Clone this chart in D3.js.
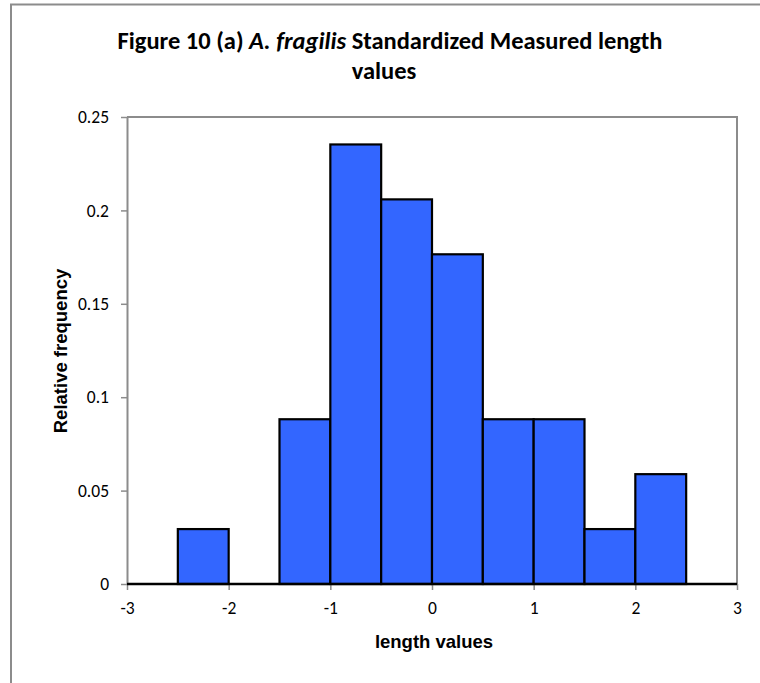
<!DOCTYPE html>
<html>
<head>
<meta charset="utf-8">
<script src="https://cdn.jsdelivr.net/npm/d3@7"></script>
<style>
  html, body { margin: 0; padding: 0; background: #fff; }
  svg { display: block; }
</style>
</head>
<body>
<svg id="chart" width="760" height="683"></svg>
<script>
// Data
const binStarts = [-3, -2.5, -2, -1.5, -1, -0.5, 0, 0.5, 1, 1.5, 2, 2.5];
const binWidth = 0.5;
const relFreq = [0, 0.0294, 0, 0.0882, 0.2353, 0.2059, 0.1765, 0.0882, 0.0882, 0.0294, 0.0588, 0];
const xTicks = [-3, -2, -1, 0, 1, 2, 3];
const xTickLabels = ["-3", "-2", "-1", "0", "1", "2", "3"];
const yTicks = [0, 0.05, 0.1, 0.15, 0.2, 0.25];
const yTickLabels = ["0", "0.05", "0.1", "0.15", "0.2", "0.25"];
const titleLine1 = ["Figure 10 (a) ", "A. fragilis", " Standardized Measured length"];
const titleLine2 = "values";
const xTitle = "length values";
const yTitle = "Relative frequency";

const svg = d3.select("#chart");
const m = { left: 127, right: 737, top: 117, bottom: 584 };
const tickFont = "Carlito, Lato, 'Open Sans', sans-serif";
const tickSize = 17.5;

// outer border
svg.append("rect").attr("x", 11).attr("y", 4.5).attr("width", 760).attr("height", 700)
  .attr("fill", "#fff").attr("stroke", "#8c8c8c").attr("stroke-width", 2);

const x = d3.scaleLinear().domain([-3, 3]).range([m.left, m.right]);
const y = d3.scaleLinear().domain([0, 0.25]).range([m.bottom, m.top]);

// plot area border (top, right)
svg.append("path")
  .attr("d", `M${m.left},${m.top}H${m.right}V${m.bottom}`)
  .attr("fill", "none").attr("stroke", "#8c8c8c").attr("stroke-width", 2);

// bars
const bars = binStarts.map((s, i) => ({ x0: s, x1: s + binWidth, v: relFreq[i] }));
svg.append("g").selectAll("rect").data(bars.filter(d => d.v > 0)).join("rect")
  .attr("x", d => x(d.x0))
  .attr("y", d => y(d.v))
  .attr("width", d => x(d.x1) - x(d.x0))
  .attr("height", d => y(0) - y(d.v))
  .attr("fill", "#3366ff")
  .attr("stroke", "#000")
  .attr("stroke-width", 2.2);

// Y axis
const yAxis = d3.axisLeft(y).tickValues(yTicks).tickFormat((d, i) => yTickLabels[i]).tickSize(6).tickSizeOuter(0);
const gy = svg.append("g").attr("transform", `translate(${m.left},0)`).call(yAxis)
  .attr("font-size", tickSize).attr("font-family", tickFont);
gy.select(".domain").attr("stroke", "#8c8c8c").attr("stroke-width", 2);
gy.selectAll(".tick line").attr("stroke", "#8c8c8c").attr("stroke-width", 1.5);
gy.selectAll(".tick text").attr("x", -18).attr("fill", "#000")
  .style("font-size", tickSize + "px").style("font-family", tickFont);

// X axis
const xAxis = d3.axisBottom(x).tickValues(xTicks).tickFormat((d, i) => xTickLabels[i]).tickSize(6).tickSizeOuter(0);
const gx = svg.append("g").attr("transform", `translate(0,${m.bottom})`).call(xAxis)
  .attr("font-size", tickSize).attr("font-family", tickFont);
gx.select(".domain").remove();
gx.selectAll(".tick line").attr("stroke", "#8c8c8c").attr("stroke-width", 1.5);
gx.selectAll(".tick text").attr("y", 18).attr("fill", "#000")
  .style("font-size", tickSize + "px").style("font-family", tickFont);

// baseline across all bins
svg.append("line")
  .attr("x1", x(-3)).attr("x2", x(3)).attr("y1", y(0)).attr("y2", y(0))
  .attr("stroke", "#000").attr("stroke-width", 2.5);

// Title
const title = svg.append("text").attr("x", 390).attr("y", 49).attr("text-anchor", "middle")
  .style("font-family", "Carlito, Lato, sans-serif").style("font-weight", "bold").style("font-size", "16.5px").attr("fill", "#000");
titleLine1.forEach((t, i) => {
  title.append("tspan").text(t).style("font-style", i === 1 ? "italic" : "normal");
});
const tl = title.node().getComputedTextLength();
if (tl > 0) title.style("font-size", (16.5 * 545 / tl).toFixed(2) + "px");
const fs = title.style("font-size");
svg.append("text").attr("x", 384).attr("y", 79).attr("text-anchor", "middle")
  .style("font-family", "Carlito, Lato, sans-serif").style("font-weight", "bold").style("font-size", fs)
  .attr("fill", "#000").text(titleLine2);

// Axis titles
svg.append("text").attr("x", 434).attr("y", 648).attr("text-anchor", "middle")
  .style("font-family", "'Liberation Sans', Arial, sans-serif").style("font-weight", "bold").style("font-size", "18.5px")
  .attr("fill", "#000").text(xTitle);
svg.append("text").attr("transform", "translate(67,351) rotate(-90)").attr("text-anchor", "middle")
  .style("font-family", "'Liberation Sans', Arial, sans-serif").style("font-weight", "bold").style("font-size", "18.5px")
  .attr("fill", "#000").text(yTitle);
</script>
</body>
</html>
